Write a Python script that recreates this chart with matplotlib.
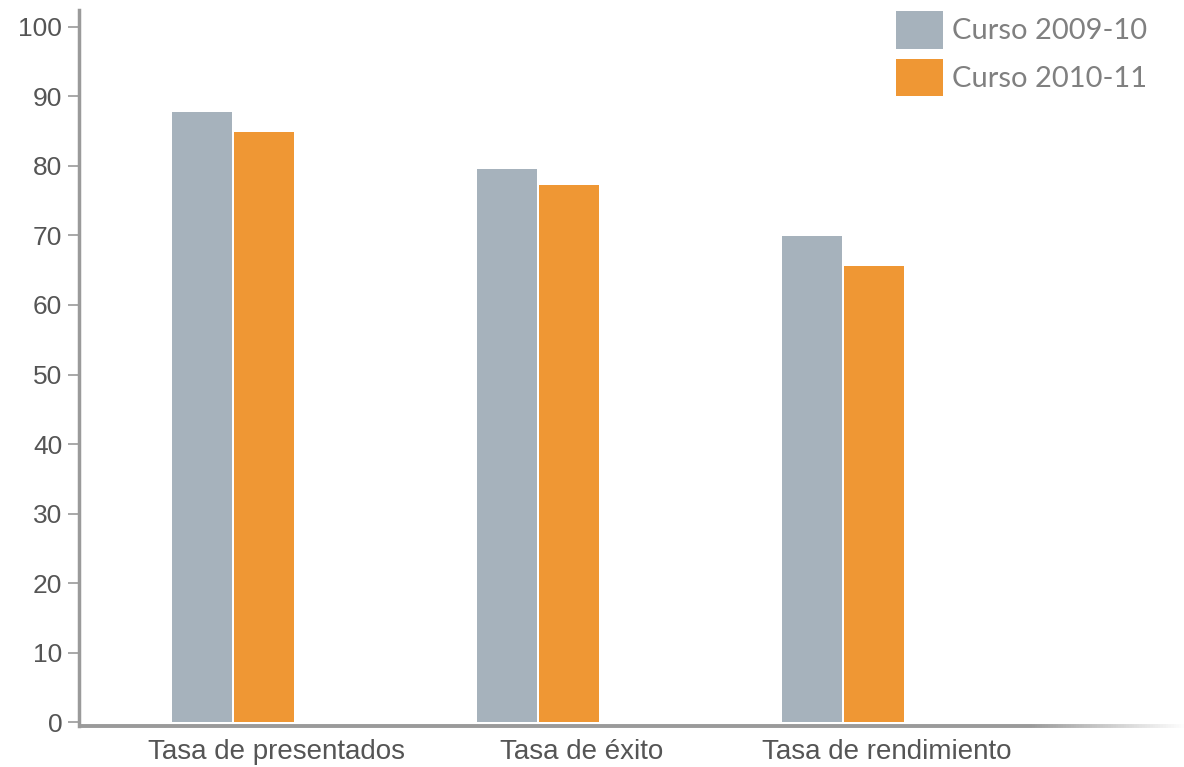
import numpy as np
import matplotlib
matplotlib.use("Agg")
import matplotlib.pyplot as plt
from matplotlib.collections import LineCollection
from matplotlib.patches import Patch

categories = ["Tasa de presentados", "Tasa de éxito", "Tasa de rendimiento"]
series_names = ["Curso 2009-10", "Curso 2010-11"]
curso_0910 = [87.8, 79.5, 69.9]
curso_1011 = [84.8, 77.2, 65.6]
yticks = [0, 10, 20, 30, 40, 50, 60, 70, 80, 90, 100]

gray = "#a6b2bc"
orange = "#ef9734"
axis_col = "#9a9a9a"

plt.rcParams['font.family'] = ['Liberation Sans', 'DejaVu Sans']

fig = plt.figure(figsize=(11.84, 7.67), dpi=100)
ax = fig.add_axes([0.0667, 0.054, 0.9333, 0.933])

x = np.arange(len(categories))
w = 0.197
ax.bar(x - 0.103, curso_0910, width=w, color=gray, zorder=2)
ax.bar(x + 0.103, curso_1011, width=w, color=orange, zorder=2)

ax.set_xlim(-0.505, 3.118)
ax.set_ylim(-0.45, 102.4)

ax.set_yticks(yticks)
ax.set_yticklabels([str(v) for v in yticks])
ax.set_xticks(x + 0.142)
ax.set_xticklabels(categories)
ax.tick_params(axis="x", length=0, pad=10, labelsize=20, labelcolor="#555555")
ax.tick_params(axis="y", length=8, width=1.2, color=axis_col, pad=4,
               labelsize=19, labelcolor="#555555")

for s in ["top", "right", "bottom"]:
    ax.spines[s].set_visible(False)
ax.spines["left"].set_color(axis_col)
ax.spines["left"].set_linewidth(2.5)

# bottom axis line, solid then fading out to the right
ax.plot([0, 0.86], [0, 0], color=axis_col, lw=2.8, transform=ax.transAxes,
        clip_on=False, solid_capstyle="butt", zorder=3)
xs = np.linspace(0.86, 1, 60)
segs = [[(xs[i], 0), (xs[i + 1], 0)] for i in range(len(xs) - 1)]
alphas = 1 - (xs[:-1] - 0.86) / 0.14
cols = [matplotlib.colors.to_rgba(axis_col, a) for a in alphas]
lc = LineCollection(segs, colors=cols, linewidths=2.8, transform=ax.transAxes,
                    clip_on=False, zorder=3, capstyle="butt")
ax.add_collection(lc)

handles = [Patch(facecolor=gray, edgecolor="none"), Patch(facecolor=orange, edgecolor="none")]
leg = ax.legend(handles, series_names, loc="upper right", bbox_to_anchor=(0.99, 1.035),
                frameon=False, handlelength=1.6, handleheight=1.6, handletextpad=0.3,
                labelspacing=0.35, prop={"family": "Lato", "size": 21})
for t in leg.get_texts():
    t.set_color("#808080")

fig.savefig("out.png", dpi=100)
